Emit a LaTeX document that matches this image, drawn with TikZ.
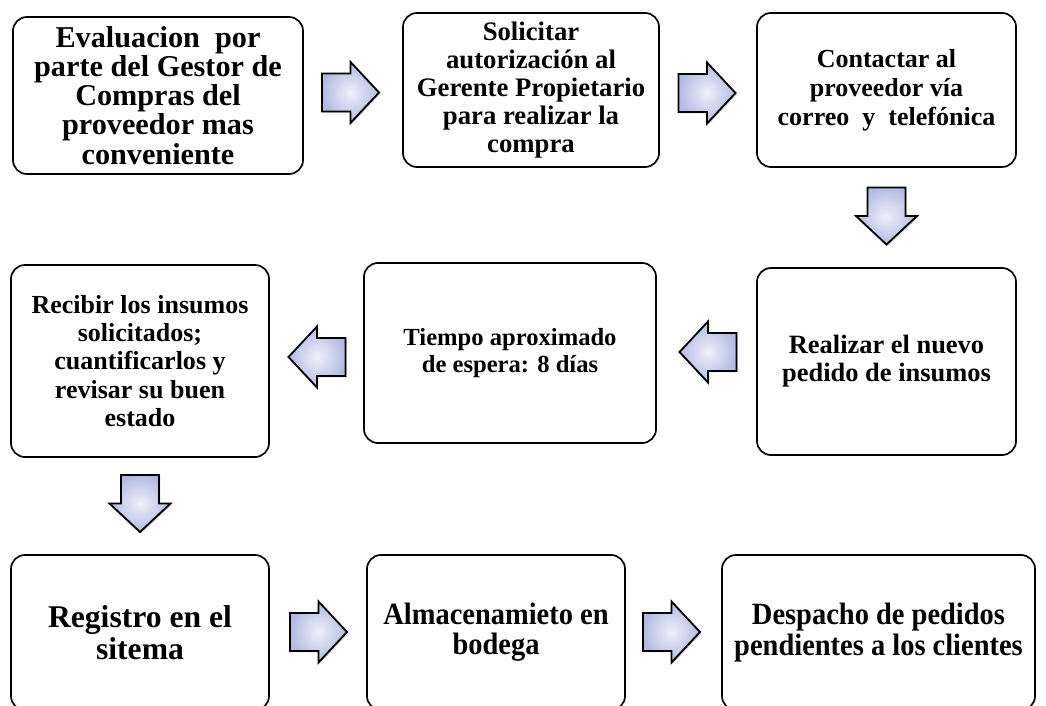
\documentclass[tikz,border=0pt]{standalone}
\usepackage{fontspec}
\setmainfont{Liberation Serif}
\newfontfamily\narrowserif{Liberation Serif}[FakeStretch=0.92]
\usetikzlibrary{shadows}
\definecolor{arrowBlue}{HTML}{B1BBE2}
\definecolor{arrowLight}{HTML}{EEF0FA}
\tikzset{
  stepbox/.style={draw=black, line width=1.2pt, rounded corners=10pt, fill=white,
                  align=center, inner sep=2pt, font=\bfseries\fontsize{19}{20}\selectfont},
  blockarrow/.pic={
    \draw[line width=1.3pt, line join=miter, inner color=arrowLight, outer color=arrowBlue,
          drop shadow={opacity=0.3, shadow xshift=1pt, shadow yshift=-1pt}]
      (-28.5,-19) -- (0,-19) -- (0,-30.5) -- (28.5,0) -- (0,30.5) -- (0,19) -- (-28.5,19) -- cycle;
  },
}

\begin{document}
\begin{tikzpicture}[x=0.025cm, y=-0.025cm]
\useasboundingbox (0,0) rectangle (1046,705);

% first row
\node[stepbox, minimum width=7.25cm, minimum height=3.925cm, font=\bfseries\fontsize{21.5}{20.7}\selectfont]
  (evaluacion) at (158,95.5) {Evaluacion\ \ por\\parte del Gestor de\\Compras del\\proveedor mas\\conveniente};
\node[stepbox, minimum width=6.4cm, minimum height=3.85cm]
  (solicitar) at (531,90) {Solicitar\\autorización al\\Gerente Propietario\\para realizar la\\compra};
\node[stepbox, minimum width=6.475cm, minimum height=3.85cm, font=\bfseries\fontsize{18.5}{20.5}\selectfont]
  (contactar) at (886.5,90) {Contactar al\\proveedor vía\\correo\ \ y\ \ telefónica};

% second row
\node[stepbox, minimum width=6.45cm, minimum height=4.8cm, font=\bfseries\fontsize{18.5}{20}\selectfont]
  (recibir) at (140,361) {Recibir los insumos\\solicitados;\\cuantificarlos y\\revisar su buen\\estado};
\node[stepbox, minimum width=7.3cm, minimum height=4.5cm, font=\bfseries\fontsize{17.5}{19}\selectfont]
  (tiempo) at (510,353) {Tiempo aproximado\\de espera: 8 días};
\node[stepbox, minimum width=6.475cm, minimum height=4.675cm, font=\bfseries\fontsize{18.8}{20}\selectfont]
  (realizar) at (886.5,361.5) {Realizar el nuevo\\pedido de insumos};

% third row
\node[stepbox, minimum width=6.45cm, minimum height=3.875cm, font=\bfseries\fontsize{22.5}{22.5}\selectfont]
  (registro) at (140,632.5) {Registro en el\\sitema};
\node[stepbox, minimum width=6.45cm, minimum height=3.875cm, font=\narrowserif\bfseries\fontsize{22}{21.5}\selectfont]
  (almacen) at (496,632.5) {Almacenamieto en\\bodega};
\node[stepbox, minimum width=7.825cm, minimum height=3.875cm, font=\narrowserif\bfseries\fontsize{22}{21.5}\selectfont]
  (despacho) at (878.5,632.5) {Despacho de pedidos\\pendientes a los clientes};

% block arrows
\pic (flechaA) at (350.5,92.5) {blockarrow};
\pic (flechaB) at (707,93) {blockarrow};
\pic[rotate=-90] (flechaC) at (886.5,216) {blockarrow};
\pic[rotate=180] (flechaD) at (708,352) {blockarrow};
\pic[rotate=180] (flechaE) at (317,357) {blockarrow};
\pic[rotate=-90] (flechaF) at (140,503.5) {blockarrow};
\pic (flechaG) at (318.5,632) {blockarrow};
\pic (flechaH) at (671.5,632) {blockarrow};
\end{tikzpicture}
\end{document}
